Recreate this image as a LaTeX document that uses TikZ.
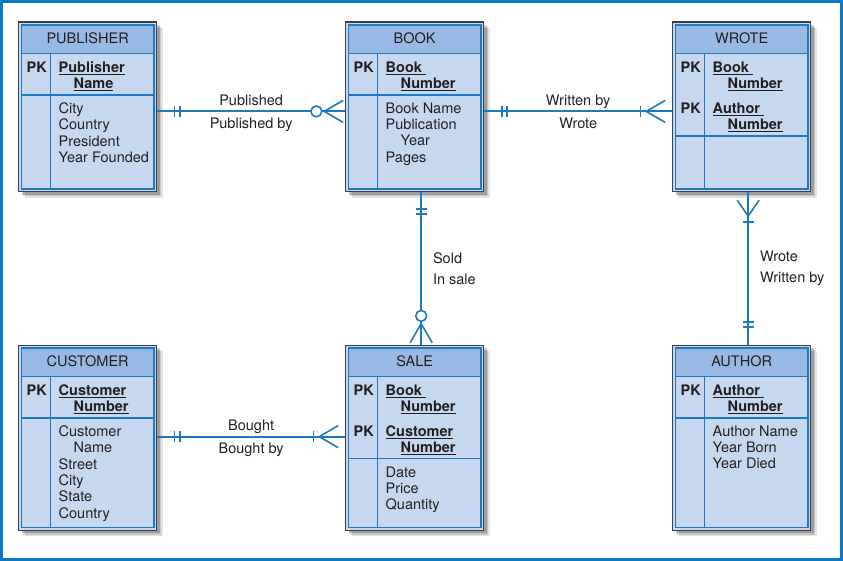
\documentclass[tikz,border=0pt]{standalone}
\usepackage{fontspec}
\setmainfont{TeX Gyre Heros}
\usepackage{xcolor}
\usepackage{tikz}
\usetikzlibrary{arrows.meta, calc, shadows}

\definecolor{frameblue}{HTML}{0B79C4}
\definecolor{relblue}{HTML}{1F78C2}
\definecolor{cellfill}{HTML}{C6D8F0}
\definecolor{headfill}{HTML}{96BAE3}
\definecolor{inkdark}{HTML}{231F20}

\newcommand\erfont{\fontsize{14.5pt}{16.3pt}\selectfont}

\tikzset{
    entity/.style={draw=black!75, line width=1.3pt, fill=cellfill, anchor=north west,
        minimum width=138pt, inner sep=0pt,
        drop shadow={shadow xshift=6pt, shadow yshift=-6pt, opacity=0.1, fill=black},
        drop shadow={shadow xshift=4.5pt, shadow yshift=-4.5pt, opacity=0.14, fill=black},
        drop shadow={shadow xshift=3pt, shadow yshift=-3pt, opacity=0.2, fill=black}},
    cellline/.style={draw=relblue, line width=1.6pt},
    title/.style={inner sep=0pt},
    pk/.style={anchor=north west, inner sep=0pt, font=\erfont\bfseries},
    keytext/.style={anchor=north west, inner sep=0pt, align=left, font=\erfont\bfseries},
    attrs/.style={anchor=north west, inner sep=0pt, align=left},
    rel/.style={draw=relblue, line width=1.8pt},
    lblup/.style={above=5pt, inner sep=0pt, text depth=0pt},
    lbldown/.style={below=6pt, inner sep=0pt, text height=10.4pt},
    lblside/.style={right=11pt, inner sep=0pt, align=left, font=\fontsize{14.5pt}{21pt}\selectfont},
    Tick/.tip={Bar[width=11pt, line width=1.6pt, sep=3.5pt]},
    Ring/.tip={Circle[fill=white, length=12.5pt, width=12.5pt, line width=1.6pt]},
    Crow/.tip={Straight Barb[reversed, length=19pt, width=22pt, line width=1.6pt, sep=1pt]},
    Crowbar/.tip={Straight Barb[reversed, length=19pt, width=22pt, line width=1.6pt, sep=6pt]},
    Crowtop/.tip={Straight Barb[reversed, length=16pt, width=22pt, line width=1.6pt, sep=7pt]}
}

\begin{document}
\begin{tikzpicture}[x=1pt, y=-1pt, font=\erfont, text=inkdark]
    \useasboundingbox (0,0) rectangle (843,561);
    \draw[frameblue, line width=3pt] (1.5,1.5) rectangle (841.5,559.5);

    % tables
    \node[entity, minimum height=169.5pt] (publisher) at (18,21.5) {};
    \node[entity, minimum height=169.5pt] (book) at (345,21.5) {};
    \node[entity, minimum height=169.5pt] (wrote) at (672,21.5) {};
    \node[entity, minimum height=185pt] (customer) at (18,344.5) {};
    \node[entity, minimum height=185pt] (sale) at (345,344.5) {};
    \node[entity, minimum height=185pt] (author) at (672,344.5) {};

    \foreach \t/\n/\k in {publisher/PUBLISHER/73.5, book/BOOK/73.5, wrote/WROTE/114.5,
                          customer/CUSTOMER/73.5, sale/SALE/114, author/AUTHOR/73.5} {
        \filldraw[cellline, fill=headfill] ([shift={(3.3,3.3)}]\t.north west) rectangle ([shift={(-3.3,32)}]\t.north east);
        \draw[cellline] ([shift={(3.3,3.3)}]\t.north west) rectangle ([shift={(-3.3,-3.3)}]\t.south east);
        \draw[cellline] ([shift={(3.3,\k)}]\t.north west) -- ([shift={(-3.3,\k)}]\t.north east);
        \draw[cellline] ([shift={(32.5,32)}]\t.north west) -- ([shift={(32.5,-3.3)}]\t.south west);
        \node[title] (\t-title) at ([shift={(0,17)}]\t.north) {\n};
    }

    % PUBLISHER
    \node[pk] (publisher-pk) at ([shift={(8.5,40)}]publisher.north west) {PK};
    \node[keytext] (publisher-key) at ([shift={(40.5,40)}]publisher.north west) {\underline{Publisher}\\\hspace*{15pt}\underline{Name}};
    \node[attrs] (publisher-attr) at ([shift={(40.5,81)}]publisher.north west) {City\\Country\\President\\Year Founded};

    % BOOK
    \node[pk] (book-pk) at ([shift={(8.5,40)}]book.north west) {PK};
    \node[keytext] (book-key) at ([shift={(40.5,40)}]book.north west) {\underline{Book\ }\\\hspace*{15pt}\underline{Number}};
    \node[attrs] (book-attr) at ([shift={(40.5,81)}]book.north west) {Book Name\\Publication\\\hspace*{15pt}Year\\Pages};

    % WROTE
    \node[pk] (wrote-pk1) at ([shift={(8.5,40)}]wrote.north west) {PK};
    \node[keytext] (wrote-key1) at ([shift={(40.5,40)}]wrote.north west) {\underline{Book\ }\\\hspace*{15pt}\underline{Number}};
    \node[pk] (wrote-pk2) at ([shift={(8.5,81)}]wrote.north west) {PK};
    \node[keytext] (wrote-key2) at ([shift={(40.5,81)}]wrote.north west) {\underline{Author\ }\\\hspace*{15pt}\underline{Number}};

    % CUSTOMER
    \node[pk] (customer-pk) at ([shift={(8.5,40)}]customer.north west) {PK};
    \node[keytext] (customer-key) at ([shift={(40.5,40)}]customer.north west) {\underline{Customer}\\\hspace*{15pt}\underline{Number}};
    \node[attrs] (customer-attr) at ([shift={(40.5,81)}]customer.north west) {Customer\\\hspace*{15pt}Name\\Street\\City\\State\\Country};

    % SALE
    \node[pk] (sale-pk1) at ([shift={(8.5,40)}]sale.north west) {PK};
    \node[keytext] (sale-key1) at ([shift={(40.5,40)}]sale.north west) {\underline{Book\ }\\\hspace*{15pt}\underline{Number}};
    \node[pk] (sale-pk2) at ([shift={(8.5,81)}]sale.north west) {PK};
    \node[keytext] (sale-key2) at ([shift={(40.5,81)}]sale.north west) {\underline{Customer}\\\hspace*{15pt}\underline{Number}};
    \node[attrs] (sale-attr) at ([shift={(40.5,122)}]sale.north west) {Date\\Price\\Quantity};

    % AUTHOR
    \node[pk] (author-pk) at ([shift={(8.5,40)}]author.north west) {PK};
    \node[keytext] (author-key) at ([shift={(40.5,40)}]author.north west) {\underline{Author\ }\\\hspace*{15pt}\underline{Number}};
    \node[attrs] (author-attr) at ([shift={(40.5,81)}]author.north west) {Author Name\\Year Born\\Year Died};

    % relationships
    \draw[rel] ([shift={(0,4.5)}]publisher.east) -- ([shift={(0,4.5)}]book.west)
        node[midway, lblup] (published-lbl) {Published}
        node[midway, lbldown] (publishedby-lbl) {Published by};
    \draw[rel, shorten <=13pt, {Tick[]Tick[]}-{Ring[]Crow[]}] ([shift={(0,4.5)}]publisher.east) -- ([shift={(0,4.5)}]book.west);

    \draw[rel] ([shift={(0,4.5)}]book.east) -- ([shift={(0,4.5)}]wrote.west)
        node[midway, lblup] (writtenby-lbl) {Written by}
        node[midway, lbldown] (wrote-lbl) {Wrote};
    \draw[rel, shorten <=13.5pt, {Tick[]Tick[]}-{Tick[]Crowbar[]}] ([shift={(0,4.5)}]book.east) -- ([shift={(0,4.5)}]wrote.west);

    \draw[rel] ([shift={(6.5,0)}]book.south) -- ([shift={(6.5,0)}]sale.north)
        node[midway, lblside] (sold-lbl) {Sold\\In sale};
    \draw[rel, shorten <=12.5pt, {Tick[]Tick[]}-{Ring[]Crow[]}] ([shift={(6.5,0)}]book.south) -- ([shift={(6.5,0)}]sale.north);

    \draw[rel] ([shift={(6.5,0)}]wrote.south) -- ([shift={(6.5,0)}]author.north)
        node[midway, lblside] (authored-lbl) {Wrote\\Written by};
    \draw[rel, shorten >=13pt, {Crowtop[]Tick[]}-{Tick[]Tick[]}] ([shift={(6.5,0)}]wrote.south) -- ([shift={(6.5,0)}]author.north);

    \draw[rel] ([shift={(0,-1)}]customer.east) -- ([shift={(0,-1)}]sale.west)
        node[midway, lblup] (bought-lbl) {Bought}
        node[midway, lbldown] (boughtby-lbl) {Bought by};
    \draw[rel, shorten <=13pt, {Tick[]Tick[]}-{Tick[]Crowbar[]}] ([shift={(0,-1)}]customer.east) -- ([shift={(0,-1)}]sale.west);
\end{tikzpicture}
\end{document}
